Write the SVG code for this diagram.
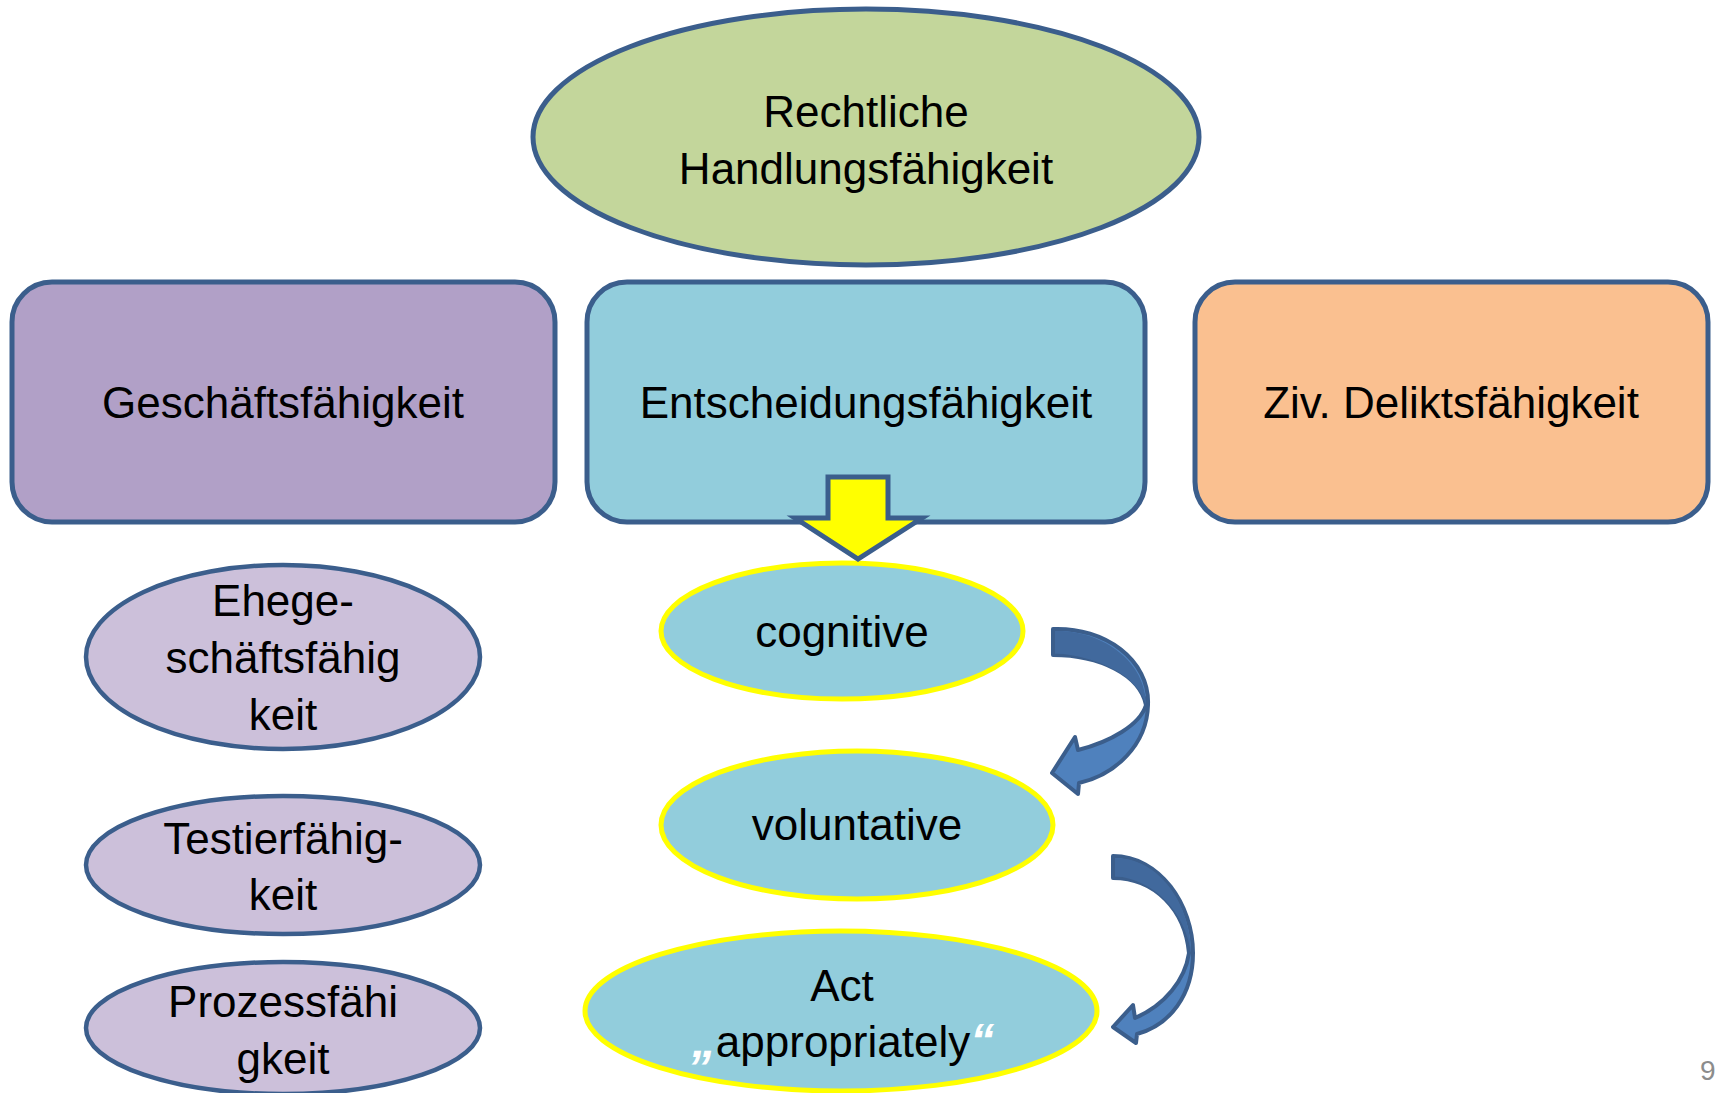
<svg xmlns="http://www.w3.org/2000/svg" width="1716" height="1093" viewBox="0 0 1716 1093">
<style>
.t{font-family:"Liberation Sans",Arial,sans-serif;font-size:44px;fill:#000;text-anchor:middle}
.q{fill:#fff;font-style:italic;font-weight:bold;font-size:48px}
.box{stroke:#3B5E8C;stroke-width:5}
.sub{fill:#CCC0DA;stroke:#3B5E8C;stroke-width:4.5}
.yel{fill:#92CDDC;stroke:#FFFF00;stroke-width:5}
.carr{fill:#4F81BD;stroke:#3B5E8C;stroke-width:4;stroke-linejoin:round}
</style>
<rect width="1716" height="1093" fill="#fff"/>
<g id="root">
<ellipse cx="866" cy="137" rx="333" ry="128" fill="#C3D69B" stroke="#3B5E8C" stroke-width="5"/>
<text class="t" x="866" y="127">Rechtliche</text>
<text class="t" x="866" y="184">Handlungsfähigkeit</text>
</g>
<g id="geschaeft">
<rect class="box" x="12" y="282" width="543" height="240" rx="40" fill="#B1A0C7"/>
<text class="t" x="283" y="418">Geschäftsfähigkeit</text>
</g>
<g id="entscheidung">
<rect class="box" x="587" y="282" width="558" height="240" rx="40" fill="#92CDDC"/>
<text class="t" x="866" y="418">Entscheidungsfähigkeit</text>
</g>
<g id="delikt">
<rect class="box" x="1195" y="282" width="513" height="240" rx="40" fill="#FAC090"/>
<text class="t" x="1451" y="418">Ziv. Deliktsfähigkeit</text>
</g>
<g id="ehe">
<ellipse class="sub" cx="283" cy="657" rx="197" ry="92"/>
<text class="t" x="283" y="616">Ehege-</text>
<text class="t" x="283" y="673">schäftsfähig</text>
<text class="t" x="283" y="730">keit</text>
</g>
<g id="testier">
<ellipse class="sub" cx="283" cy="865" rx="197" ry="69"/>
<text class="t" x="283" y="854">Testierfähig-</text>
<text class="t" x="283" y="910">keit</text>
</g>
<g id="prozess">
<ellipse class="sub" cx="283" cy="1028" rx="197" ry="66"/>
<text class="t" x="283" y="1017">Prozessfähi</text>
<text class="t" x="283" y="1074">gkeit</text>
</g>
<g id="cognitive">
<ellipse class="yel" cx="842" cy="631" rx="181" ry="68"/>
<text class="t" x="842" y="647">cognitive</text>
</g>
<g id="voluntative">
<ellipse class="yel" cx="857" cy="825" rx="196" ry="74"/>
<text class="t" x="857" y="840">voluntative</text>
</g>
<g id="act">
<ellipse class="yel" cx="841" cy="1011" rx="256" ry="80"/>
<text class="t" x="842" y="1001">Act</text>
<text class="t" x="843" y="1057"><tspan class="q">„</tspan>appropriately<tspan class="q">“</tspan></text>
</g>
<g id="connectors">
<path d="M828,477 H888 V518 H922 L858,559 L795,518 H828 Z" fill="#FFFF00" stroke="#3B5E8C" stroke-width="5"/>
<path class="carr" d="M1053,629 C1105,627 1150,660 1148,705 C1147,745 1115,775 1079,783 L1078,794 L1052,773 L1075,737 L1078,750 C1110,742 1140,725 1146,705 C1140,675 1100,655 1053,655 Z"/>
<path d="M1055,631 C1103,630 1146,662 1146,705 C1138,676 1100,657 1055,653 Z" fill="#41699D"/>
<path class="carr" d="M1113,856 C1160,856 1193,905 1193,953 C1193,995 1170,1025 1137,1034 L1136,1043 L1113,1027 L1133,1005 L1135,1018 C1165,1005 1185,980 1189,953 C1185,910 1155,878 1113,878 Z"/>
<path d="M1115,858 C1160,858 1191,905 1191,953 C1185,912 1155,880 1115,876 Z" fill="#41699D"/>
</g>
<text x="1700" y="1080" font-family="Liberation Sans,Arial,sans-serif" font-size="28" fill="#8C8C8C">9</text>
</svg>
